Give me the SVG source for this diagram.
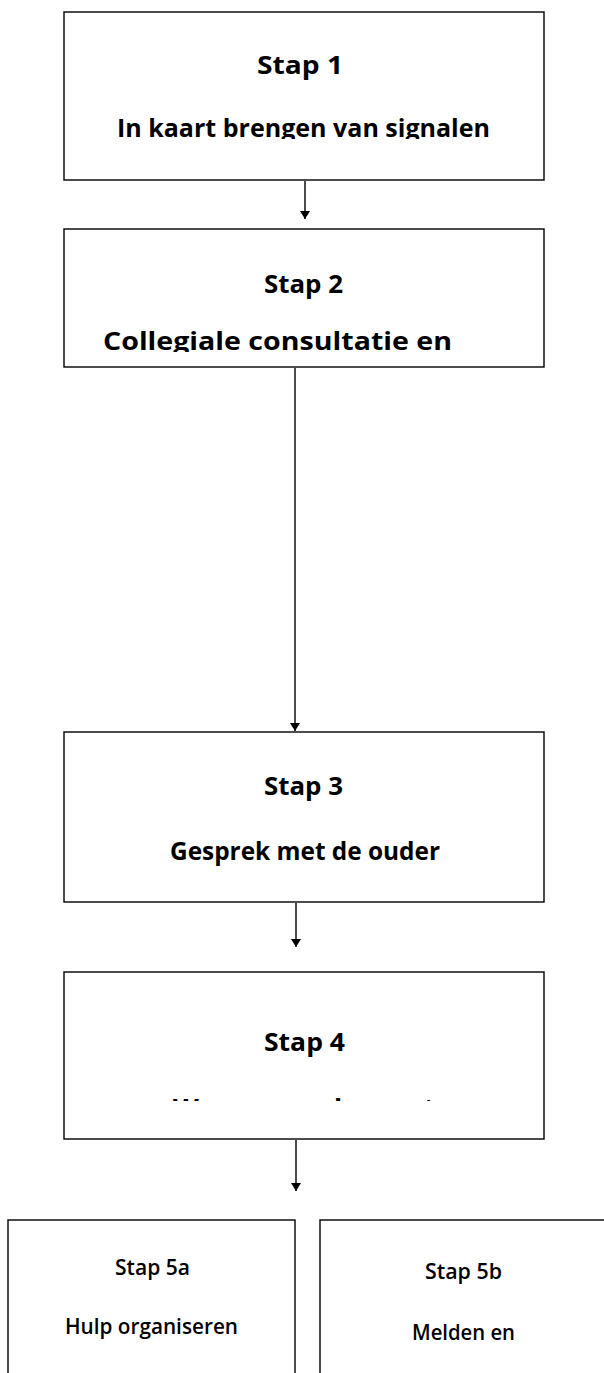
<svg xmlns="http://www.w3.org/2000/svg" width="604" height="1373" viewBox="0 0 604 1373">
  <style>
    .box { fill: #ffffff; stroke: #000000; stroke-width: 1.4; }
    .t { font-family: "Open Sans", "Liberation Sans", sans-serif; font-weight: 700; font-size: 25px; fill: #000000; }
    .s { font-family: "Open Sans", "Liberation Sans", sans-serif; font-weight: 600; font-size: 21px; fill: #000000; }
    .conn { stroke: #000000; stroke-width: 1.4; fill: none; marker-end: url(#arrow); }
  </style>
  <defs>
    <marker id="arrow" viewBox="0 0 8 10" refX="8" refY="5" markerWidth="8" markerHeight="10" markerUnits="userSpaceOnUse" orient="auto">
      <path d="M0,0 L8,5 L0,10 z" fill="#000000"/>
    </marker>
    <clipPath id="clip1"><rect x="64" y="12" width="480" height="127"/></clipPath>
    <clipPath id="clip2"><rect x="64" y="229" width="480" height="123"/></clipPath>
    <clipPath id="clip4"><rect x="64" y="972" width="480" height="129"/></clipPath>
  </defs>
  <rect width="604" height="1373" fill="#ffffff"/>

  <g id="connectors">
    <line class="conn" x1="305" y1="181" x2="305" y2="219"/>
    <line class="conn" x1="295" y1="368" x2="295" y2="731"/>
    <line class="conn" x1="296" y1="903" x2="296" y2="947"/>
    <line class="conn" x1="296" y1="1140" x2="296" y2="1191"/>
  </g>

  <g id="stap1">
    <rect class="box" x="64" y="12" width="480" height="168"/>
    <text class="t" x="257" y="74" textLength="86" lengthAdjust="spacingAndGlyphs">Stap 1</text>
    <text class="t" x="117" y="137" textLength="373" lengthAdjust="spacingAndGlyphs" clip-path="url(#clip1)">In kaart brengen van signalen</text>
  </g>

  <g id="stap2">
    <rect class="box" x="64" y="229" width="480" height="138"/>
    <text class="t" x="264" y="293" textLength="79" lengthAdjust="spacingAndGlyphs">Stap 2</text>
    <text class="t" x="103" y="350" textLength="349" lengthAdjust="spacingAndGlyphs" clip-path="url(#clip2)">Collegiale consultatie en</text>
  </g>

  <g id="stap3">
    <rect class="box" x="64" y="732" width="480" height="170"/>
    <text class="t" x="264" y="795" textLength="79" lengthAdjust="spacingAndGlyphs">Stap 3</text>
    <text class="t" x="170" y="860" textLength="270" lengthAdjust="spacingAndGlyphs">Gesprek met de ouder</text>
  </g>

  <g id="stap4">
    <rect class="box" x="64" y="972" width="480" height="167"/>
    <text class="t" x="264" y="1051" textLength="81" lengthAdjust="spacingAndGlyphs">Stap 4</text>
    <text class="t" x="173" y="1117" textLength="262" lengthAdjust="spacingAndGlyphs" clip-path="url(#clip4)">Wegen van de ernst</text>
  </g>

  <g id="stap5a">
    <rect class="box" x="8" y="1220" width="287" height="170"/>
    <text class="s" x="115" y="1275" textLength="75" lengthAdjust="spacingAndGlyphs">Stap 5a</text>
    <text class="s" x="65" y="1334" textLength="173" lengthAdjust="spacingAndGlyphs">Hulp organiseren</text>
  </g>

  <g id="stap5b">
    <rect class="box" x="320" y="1220" width="290" height="170"/>
    <text class="s" x="425" y="1279" textLength="77" lengthAdjust="spacingAndGlyphs">Stap 5b</text>
    <text class="s" x="412" y="1340" textLength="103" lengthAdjust="spacingAndGlyphs">Melden en</text>
  </g>
</svg>
